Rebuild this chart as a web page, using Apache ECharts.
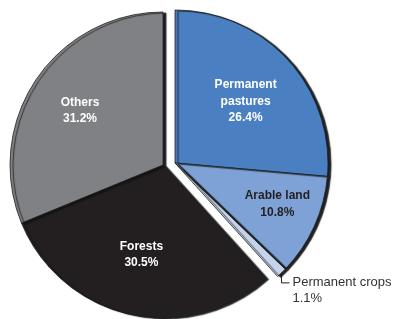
<!DOCTYPE html>
<html>
<head>
<meta charset="utf-8">
<script src="https://cdn.jsdelivr.net/npm/echarts@6/dist/echarts.min.js"></script>
<style>
html,body{margin:0;padding:0;background:#fff;}
#chart{width:393px;height:319px;}
</style>
</head>
<body>
<div id="chart"></div>
<script>
// ---- data ----
const categories = ['Permanent pastures', 'Arable land', 'Permanent crops', 'Forests', 'Others'];
const shares = [26.4, 10.8, 1.1, 30.5, 31.2];
const labelNames = ['Permanent\npastures', 'Arable land', 'Permanent crops', 'Forests', 'Others'];
const explodedGroup = [true, true, true, false, false];

// ---- styles ----
const colors = ['#4a80c2', '#7ea2d6', '#c6d3ec', '#231f20', '#808184'];
const labelColors = ['#ffffff', '#231f20', '#333333', '#ffffff', '#ffffff'];
const labelShift = {
  'Permanent pastures': [12, -8],
  'Arable land': [30, 8],
  'Forests': [-4, 12],
  'Others': [-17, -10]
};
const R = 153;

function makeData(showExploded) {
  return categories.map((name, i) => {
    const visible = explodedGroup[i] === showExploded;
    const outside = name === 'Permanent crops';
    return {
      name: name,
      value: shares[i],
      itemStyle: visible ? {
        color: colors[i],
        borderColor: '#1e1e1e',
        borderWidth: 0.8,
        shadowColor: 'rgba(20,20,20,0.95)',
        shadowBlur: 1,
        shadowOffsetX: 3,
        shadowOffsetY: 1
      } : {
        color: 'transparent', borderWidth: 0, borderColor: 'transparent',
        shadowColor: 'transparent', shadowBlur: 0
      },
      label: visible ? (outside ? {
        show: true,
        position: 'outside',
        color: labelColors[i],
        fontFamily: 'Liberation Sans, Arial, sans-serif',
        fontSize: 13,
        fontWeight: 'normal',
        lineHeight: 16,
        align: 'left',
        formatter: p => labelNames[p.dataIndex] + '\n' + p.value.toFixed(1) + '%'
      } : {
        show: true,
        position: 'inside',
        color: labelColors[i],
        fontFamily: 'Liberation Sans, Arial, sans-serif',
        fontSize: 12,
        fontWeight: 'bold',
        lineHeight: 16.5,
        align: 'center',
        formatter: p => labelNames[p.dataIndex] + '\n' + p.value.toFixed(1) + '%'
      }) : { show: false },
      labelLine: visible && outside ? {
        show: true, length: 10, length2: 8, smooth: false,
        lineStyle: { color: '#222', width: 1 }
      } : { show: false }
    };
  });
}

function layoutFn(p) {
  const name = categories[p.dataIndex];
  if (name === 'Permanent crops' && p.labelLinePoints) {
    const p0 = p.labelLinePoints[0];
    return {
      x: p0[0] + 11,
      y: p0[1] + 2,
      align: 'left',
      verticalAlign: 'top',
      labelLinePoints: [p0, [p0[0], p0[1] + 10], [p0[0] + 8, p0[1] + 10]]
    };
  }
  const s = labelShift[name];
  return s ? { dx: s[0], dy: s[1] } : {};
}

const chart = echarts.init(document.getElementById('chart'), null, { renderer: 'canvas' });
const baseSeries = {
  type: 'pie',
  radius: R,
  startAngle: 90,
  clockwise: true,
  avoidLabelOverlap: false,
  silent: true,
  animation: false,
  emphasis: { disabled: true },
  labelLayout: layoutFn
};
chart.setOption({
  backgroundColor: '#ffffff',
  animation: false,
  series: [
    Object.assign({}, baseSeries, { center: [163, 165], data: makeData(false), z: 2 }),
    Object.assign({}, baseSeries, { center: [175, 163], data: makeData(true), z: 3 })
  ]
});
</script>
</body>
</html>
